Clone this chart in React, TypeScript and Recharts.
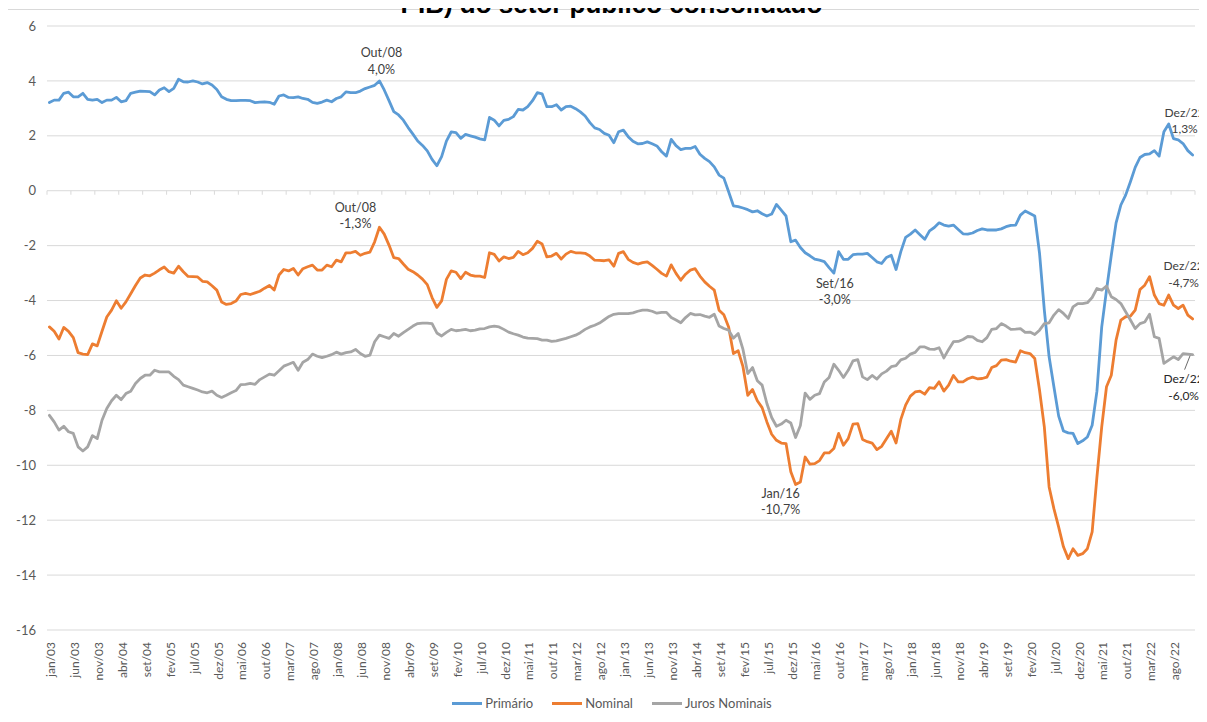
import React from 'react';
import {
  LineChart,
  Line,
  XAxis,
  YAxis,
  CartesianGrid,
  Legend,
  ReferenceLine,
  ReferenceDot,
} from 'recharts';

// ---------- categories ----------
const monthNames = ['jan', 'fev', 'mar', 'abr', 'mai', 'jun', 'jul', 'ago', 'set', 'out', 'nov', 'dez'];
const yearLabels = ['03', '04', '05', '06', '07', '08', '09', '10', '11', '12', '13', '14', '15', '16', '17', '18', '19', '20', '21', '22'];
const categories: string[] = yearLabels.flatMap((y) => monthNames.map((m) => `${m}/${y}`));

// ---------- series (% do PIB, acumulado em 12 meses) ----------
const primario = [
  3.21, 3.30, 3.30, 3.55, 3.59, 3.42, 3.42, 3.55, 3.33, 3.30, 3.33, 3.21,
  3.30, 3.30, 3.40, 3.24, 3.28, 3.55, 3.59, 3.63, 3.62, 3.61, 3.49, 3.67,
  3.75, 3.61, 3.73, 4.06, 3.97, 3.96, 4.00, 3.96, 3.89, 3.94, 3.85, 3.69,
  3.42, 3.33, 3.28, 3.28, 3.29, 3.29, 3.28, 3.21, 3.23, 3.24, 3.22, 3.15,
  3.45, 3.49, 3.40, 3.39, 3.42, 3.36, 3.33, 3.22, 3.18, 3.23, 3.30, 3.24,
  3.36, 3.42, 3.60, 3.57, 3.57, 3.63, 3.72, 3.78, 3.84, 4.00, 3.67, 3.28,
  2.88, 2.76, 2.57, 2.30, 2.06, 1.81, 1.65, 1.45, 1.14, 0.91, 1.24, 1.81,
  2.14, 2.12, 1.91, 2.05, 2.00, 1.95, 1.89, 1.85, 2.67, 2.57, 2.36, 2.56,
  2.60, 2.70, 2.96, 2.94, 3.06, 3.28, 3.57, 3.53, 3.06, 3.06, 3.13, 2.94,
  3.06, 3.08, 2.99, 2.87, 2.72, 2.48, 2.29, 2.23, 2.09, 2.02, 1.75, 2.15,
  2.21, 1.97, 1.80, 1.71, 1.72, 1.78, 1.71, 1.63, 1.42, 1.26, 1.87, 1.64,
  1.50, 1.54, 1.54, 1.61, 1.33, 1.18, 1.06, 0.87, 0.57, 0.46, -0.04, -0.55,
  -0.58, -0.63, -0.69, -0.77, -0.73, -0.84, -0.92, -0.85, -0.50, -0.71, -0.92, -1.86,
  -1.80, -2.07, -2.26, -2.37, -2.49, -2.53, -2.58, -2.80, -3.00, -2.22, -2.50, -2.50,
  -2.33, -2.31, -2.31, -2.28, -2.43, -2.59, -2.65, -2.43, -2.35, -2.87, -2.22, -1.70,
  -1.58, -1.43, -1.60, -1.77, -1.46, -1.34, -1.17, -1.25, -1.29, -1.25, -1.41, -1.57,
  -1.58, -1.54, -1.45, -1.39, -1.43, -1.43, -1.43, -1.39, -1.31, -1.26, -1.25, -0.89,
  -0.74, -0.83, -0.92, -2.28, -4.35, -6.05, -7.14, -8.21, -8.75, -8.82, -8.84, -9.21,
  -9.11, -8.97, -8.54, -7.30, -4.96, -3.62, -2.35, -1.17, -0.52, -0.16, 0.33, 0.85,
  1.21, 1.32, 1.34, 1.46, 1.26, 2.15, 2.43, 1.90, 1.85, 1.72, 1.46, 1.30,
];

const nominal = [
  -4.96, -5.12, -5.40, -4.98, -5.12, -5.35, -5.90, -5.95, -5.97, -5.58, -5.65, -5.12,
  -4.60, -4.35, -4.01, -4.28, -4.05, -3.75, -3.45, -3.18, -3.07, -3.10, -3.00, -2.88,
  -2.78, -2.95, -3.00, -2.75, -2.95, -3.12, -3.13, -3.14, -3.30, -3.32, -3.46, -3.62,
  -4.05, -4.14, -4.11, -4.02, -3.78, -3.74, -3.78, -3.72, -3.66, -3.55, -3.45, -3.62,
  -3.07, -2.87, -2.92, -2.83, -3.07, -2.84, -2.77, -2.71, -2.89, -2.89, -2.71, -2.77,
  -2.53, -2.59, -2.26, -2.26, -2.21, -2.35, -2.28, -2.24, -1.86, -1.33, -1.58, -1.98,
  -2.44, -2.47, -2.67, -2.86, -2.95, -3.07, -3.22, -3.42, -3.89, -4.25, -4.01, -3.23,
  -2.92, -2.97, -3.20, -2.97, -3.07, -3.11, -3.11, -3.16, -2.26, -2.32, -2.56, -2.41,
  -2.47, -2.43, -2.21, -2.33, -2.26, -2.10, -1.84, -1.94, -2.41, -2.38, -2.28, -2.49,
  -2.31, -2.21, -2.26, -2.26, -2.28, -2.38, -2.53, -2.54, -2.55, -2.52, -2.75, -2.28,
  -2.22, -2.50, -2.61, -2.67, -2.62, -2.59, -2.72, -2.86, -3.01, -3.11, -2.70, -3.01,
  -3.26, -3.04, -2.89, -2.84, -3.11, -3.32, -3.48, -3.62, -4.35, -4.52, -4.96, -5.93,
  -5.83, -6.41, -7.45, -7.24, -7.65, -7.90, -8.42, -8.87, -9.09, -9.19, -9.21, -10.24,
  -10.70, -10.61, -9.70, -9.96, -9.94, -9.83, -9.55, -9.55, -9.39, -8.84, -9.27, -9.03,
  -8.50, -8.48, -9.06, -9.14, -9.19, -9.43, -9.31, -9.03, -8.76, -9.19, -8.33, -7.81,
  -7.48, -7.33, -7.30, -7.41, -7.17, -7.20, -6.96, -7.30, -7.08, -6.73, -6.96, -6.96,
  -6.85, -6.79, -6.85, -6.84, -6.79, -6.44, -6.37, -6.17, -6.15, -6.21, -6.24, -5.83,
  -5.90, -5.93, -6.11, -7.27, -8.60, -10.79, -11.58, -12.25, -12.97, -13.40, -13.04, -13.28,
  -13.22, -13.04, -12.43, -10.42, -8.60, -7.14, -6.72, -5.44, -4.71, -4.59, -4.57, -4.35,
  -3.60, -3.44, -3.13, -3.80, -4.11, -4.17, -3.80, -4.17, -4.29, -4.17, -4.53, -4.67,
];

const juros = [
  -8.18, -8.42, -8.72, -8.58, -8.78, -8.84, -9.33, -9.48, -9.33, -8.92, -9.03, -8.36,
  -7.93, -7.65, -7.45, -7.61, -7.39, -7.30, -7.02, -6.84, -6.72, -6.72, -6.54, -6.60,
  -6.60, -6.60, -6.76, -6.88, -7.08, -7.14, -7.20, -7.26, -7.33, -7.36, -7.30, -7.45,
  -7.53, -7.45, -7.36, -7.28, -7.06, -7.05, -7.02, -7.05, -6.88, -6.78, -6.68, -6.72,
  -6.56, -6.39, -6.32, -6.25, -6.54, -6.25, -6.15, -5.95, -6.03, -6.08, -6.03, -5.97,
  -5.88, -5.95, -5.90, -5.87, -5.78, -5.93, -6.03, -5.99, -5.50, -5.26, -5.32, -5.38,
  -5.20, -5.30, -5.17, -5.05, -4.93, -4.84, -4.82, -4.82, -4.84, -5.18, -5.29, -5.16,
  -5.05, -5.10, -5.08, -5.05, -5.10, -5.08, -5.03, -5.02, -4.96, -4.93, -4.96, -5.05,
  -5.15, -5.21, -5.26, -5.33, -5.37, -5.38, -5.39, -5.44, -5.44, -5.49, -5.47, -5.42,
  -5.38, -5.32, -5.26, -5.17, -5.05, -4.96, -4.90, -4.82, -4.70, -4.58, -4.50, -4.48,
  -4.48, -4.48, -4.45, -4.39, -4.35, -4.35, -4.39, -4.46, -4.43, -4.43, -4.62, -4.71,
  -4.81, -4.62, -4.47, -4.52, -4.51, -4.57, -4.61, -4.50, -4.93, -5.02, -5.08, -5.37,
  -5.20, -5.78, -6.66, -6.44, -6.92, -7.08, -7.75, -8.26, -8.58, -8.50, -8.36, -8.46,
  -8.99, -8.55, -7.37, -7.60, -7.45, -7.39, -6.97, -6.80, -6.32, -6.54, -6.80, -6.54,
  -6.20, -6.15, -6.78, -6.88, -6.73, -6.86, -6.67, -6.57, -6.41, -6.37, -6.16, -6.10,
  -5.95, -5.89, -5.69, -5.69, -5.77, -5.78, -5.72, -6.09, -5.78, -5.50, -5.49, -5.42,
  -5.31, -5.32, -5.45, -5.50, -5.35, -5.05, -5.02, -4.84, -4.93, -5.05, -5.04, -5.02,
  -5.16, -5.15, -5.24, -5.08, -4.84, -4.81, -4.53, -4.33, -4.47, -4.65, -4.23, -4.11,
  -4.11, -4.08, -3.89, -3.56, -3.62, -3.47, -3.86, -3.96, -4.11, -4.41, -4.71, -5.02,
  -4.84, -4.78, -4.50, -5.32, -5.38, -6.29, -6.17, -6.05, -6.15, -5.93, -5.95, -5.97,
];

const yTicks = [6, 4, 2, 0, -2, -4, -6, -8, -10, -12, -14, -16];

const seriesKeys = ['primario', 'nominal', 'juros'];
const seriesNames = ['Primário', 'Nominal', 'Juros Nominais'];

const titleText = 'PIB) do setor público consolidado';

// ---------- annotations (data labels) ----------
const annotationSeries = ['primario', 'nominal', 'nominal', 'primario', 'primario', 'nominal', 'juros'];
const annotationIndex = [69, 69, 156, 164, 239, 239, 239];
const annotationTitle = ['Out/08', 'Out/08', 'Jan/16', 'Set/16', 'Dez/22', 'Dez/22', 'Dez/22'];
const annotationValue = ['4,0%', '-1,3%', '-10,7%', '-3,0%', '1,3%', '-4,7%', '-6,0%'];

// ---------- styles ----------
const FONT = 'Lato, "Noto Sans", "DejaVu Sans", sans-serif';
const seriesColors = ['#5B9BD5', '#ED7D31', '#A5A5A5'];
const GRID = '#d9d9d9';
const TEXT = '#595959';
const annotationStyle = [
  { dx: 2, dy: -28, color: '#404040', leader: false, size: 12.5 },
  { dx: -24, dy: -20, color: '#404040', leader: false, size: 12.5 },
  { dx: -15, dy: 9, color: '#404040', leader: false, size: 12.5 },
  { dx: 1, dy: 10, color: '#404040', leader: false, size: 12.5 },
  { dx: -8, dy: -43, color: '#404040', leader: false, size: 12 },
  { dx: -9, dy: -53, color: '#404040', leader: false, size: 12 },
  { dx: -9, dy: 24, color: '#262626', leader: true, size: 12 },
];

const seriesArrays: Record<string, number[]> = { primario, nominal, juros };

const data = categories.map((c, i) => ({
  month: c,
  primario: primario[i],
  nominal: nominal[i],
  juros: juros[i],
}));

const tickMarkCats = categories.filter((_, i) => i % 5 === 0);

const XTick = (props: any) => {
  const { x, y, payload } = props;
  return (
    <text
      transform={`translate(${x + 1.5},${y + 12}) rotate(-90)`}
      textAnchor="end"
      dy="0.35em"
      fontSize={12}
      fontFamily={FONT}
      fill={TEXT}
    >
      {payload.value}
    </text>
  );
};

const tickMarkShape = (p: any) => (
  <line x1={p.x1} y1={p.y1} x2={p.x1} y2={p.y1 + 4} stroke={GRID} strokeWidth={1} />
);

const makeAnnotationShape = (k: number) => (p: any) => {
  const { cx, cy } = p;
  const s = annotationStyle[k];
  return (
    <g>
      {s.leader && (
        <line x1={cx - 2.5} y1={cy + 1} x2={cx - 8} y2={cy + 15} stroke="#595959" strokeWidth={0.9} />
      )}
      <text
        x={cx + s.dx}
        y={cy + s.dy}
        textAnchor="middle"
        dominantBaseline="central"
        fontSize={s.size}
        fontFamily={FONT}
        fill={s.color}
      >
        {annotationTitle[k]}
      </text>
      <text
        x={cx + s.dx}
        y={cy + s.dy + 16.5}
        textAnchor="middle"
        dominantBaseline="central"
        fontSize={s.size}
        fontFamily={FONT}
        fill={s.color}
      >
        {annotationValue[k]}
      </text>
    </g>
  );
};

const LegendContent = () => (
  <div
    style={{
      display: 'flex',
      justifyContent: 'center',
      alignItems: 'center',
      height: 22,
      fontFamily: FONT,
      fontSize: 13,
      color: TEXT,
      paddingLeft: 17,
    }}
  >
    {seriesNames.map((n, i) => (
      <div key={n} style={{ display: 'flex', alignItems: 'center', marginRight: i < seriesNames.length - 1 ? 19 : 0 }}>
        <div style={{ width: 30, height: 3, background: seriesColors[i] }} />
        <span style={{ marginLeft: 3 }}>{n}</span>
      </div>
    ))}
  </div>
);

export default function App() {
  return (
    <div
      style={{
        position: 'relative',
        width: 1207,
        height: 722,
        marginTop: -8,
        marginLeft: -8,
        overflow: 'hidden',
        background: '#ffffff',
      }}
    >
      <div
        style={{
          position: 'absolute',
          left: 6,
          top: 9,
          width: 1400,
          height: 900,
          border: `1px solid ${GRID}`,
          boxSizing: 'border-box',
        }}
      />
      <div style={{ position: 'absolute', left: 0, top: 0 }}>
        <LineChart width={1207} height={722} data={data} margin={{ top: 26, right: 12, bottom: 8, left: 0 }}>
          <CartesianGrid vertical={false} stroke={GRID} />
          <XAxis
            dataKey="month"
            scale="band"
            interval={4}
            tick={<XTick />}
            tickLine={false}
            axisLine={false}
            tickSize={0}
            tickMargin={0}
            height={62}
          />
          <YAxis
            type="number"
            domain={[-16, 6]}
            ticks={yTicks}
            interval={0}
            width={47}
            axisLine={false}
            tickLine={false}
            tickSize={0}
            tickMargin={11}
            tick={{ fill: TEXT, fontSize: 13, fontFamily: FONT }}
          />
          {tickMarkCats.map((c) => (
            <ReferenceLine
              key={`tm-${c}`}
              segment={[{ x: c, y: 0 }, { x: c, y: 0 }]}
              position="start"
              shape={tickMarkShape}
              ifOverflow="visible"
            />
          ))}
          <ReferenceLine
            key="tm-end"
            segment={[{ x: categories[categories.length - 1], y: 0 }, { x: categories[categories.length - 1], y: 0 }]}
            position="end"
            shape={tickMarkShape}
            ifOverflow="visible"
          />
          {seriesKeys.map((k, i) => (
            <Line
              key={k}
              dataKey={k}
              name={seriesNames[i]}
              type="linear"
              stroke={seriesColors[i]}
              strokeWidth={2.8}
              strokeLinejoin="round"
              strokeLinecap="round"
              dot={false}
              activeDot={false}
              isAnimationActive={false}
            />
          ))}
          {annotationIndex.map((idx, k) => (
            <ReferenceDot
              key={`an-${k}`}
              x={categories[idx]}
              y={seriesArrays[annotationSeries[k]][idx]}
              r={2}
              ifOverflow="visible"
              shape={makeAnnotationShape(k)}
            />
          ))}
          <Legend
            verticalAlign="bottom"
            height={22}
            wrapperStyle={{ left: 0, width: 1207 }}
            content={() => <LegendContent />}
          />
        </LineChart>
      </div>
      <div
        style={{
          position: 'absolute',
          left: 8,
          top: -9,
          width: 1207,
          textAlign: 'center',
          fontFamily: '"Liberation Sans", Arial, sans-serif',
          fontWeight: 'bold',
          fontSize: 26,
          lineHeight: '26px',
          color: '#000000',
          whiteSpace: 'nowrap',
          zIndex: 5,
        }}
      >
        {titleText}
      </div>
    </div>
  );
}
